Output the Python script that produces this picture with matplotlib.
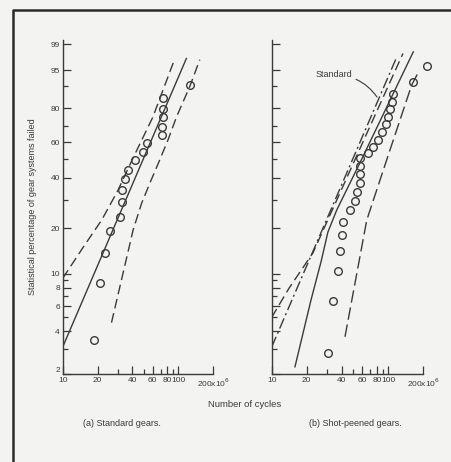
import numpy as np
import matplotlib
matplotlib.use('Agg')
import matplotlib.pyplot as plt
from matplotlib.lines import Line2D
from matplotlib.ticker import FixedLocator, FixedFormatter, NullFormatter

# ---------------- data ----------------
# (a) standard gears: failures (millions of cycles) and percent failed
std_cycles = [18.6, 21.0, 23.3, 25.6, 31.2, 32.3, 32.6, 34.4, 36.3, 42.0,
              49.0, 53.0, 71.8, 72.6, 73.0, 73.0, 73.0, 126.9]
std_pct = [3.5, 8.6, 13.7, 19.2, 23.6, 28.9, 34.2, 39.4, 44.1, 49.6,
           54.4, 59.5, 64.5, 69.5, 75.0, 79.6, 85.0, 90.5]
# fitted Weibull line and 90% confidence band, standard gears
std_fit_cycles = [10, 117]
std_fit_pct = [3.1, 97.4]
std_upper_cycles = [10, 15, 21.7, 30, 40, 60, 91]
std_upper_pct = [9.3, 15.0, 22.5, 34.0, 50.0, 75.0, 96.9]
std_lower_cycles = [26.4, 40.6, 48.0, 56.5, 66.9, 81.2, 96.3, 125, 152.7]
std_lower_pct = [4.6, 19.5, 28.5, 37.3, 47.7, 61.5, 75.3, 89.9, 97.2]

# (b) shot-peened gears
sp_cycles = [30.6, 33.8, 37.3, 38.6, 39.9, 41.2, 47.0, 51.9, 54.3, 57.4,
             57.4, 57.4, 57.4, 67.4, 74.5, 82.3, 89.0, 95.2, 100.2, 103.5,
             107.2, 110.6, 164.4, 213.6]
sp_pct = [2.8, 6.5, 10.5, 14.3, 18.0, 22.0, 26.0, 29.6, 33.4, 37.6,
          42.0, 46.4, 50.6, 53.9, 57.4, 61.5, 66.5, 71.0, 75.3, 79.4,
          83.3, 86.9, 91.7, 96.1]
sp_fit_cycles = [15.85, 21.75, 26.5, 30.4, 36.2, 57.1, 164.4]
sp_fit_pct = [2.25, 6.6, 12.0, 18.9, 26.0, 47.9, 98.3]
sp_upper_cycles = [10, 14, 22.6, 40, 75, 134]
sp_upper_pct = [5.0, 7.9, 13.8, 34.7, 74.4, 98.1]
sp_lower_cycles = [42.6, 65.5, 103.6, 159.1, 185]
sp_lower_pct = [3.66, 22.5, 55.4, 90.5, 95.0]

y_major = [2, 4, 6, 8, 10, 20, 40, 60, 80, 95, 99]
y_minor = [3, 5, 7, 9, 30, 50, 70, 90]
x_major = [10, 20, 40, 60, 80, 100, 200]
x_labels = ['10', '20', '40', '60', '80', '100', '200x10$^6$']
x_minor = [30, 50, 70, 90]

# ---------------- style ----------------
INK = '#3a3a3a'
plt.rcParams['font.family'] = ['Liberation Sans', 'DejaVu Sans']


def fwd(p):
    p = np.clip(np.asarray(p, dtype=float), 1e-6, 99.99999)
    return np.log(-np.log(1 - p / 100.0))


def inv(w):
    return 100.0 * (1 - np.exp(-np.exp(np.asarray(w, dtype=float))))


fig = plt.figure(figsize=(4.51, 4.62), dpi=100)
fig.patch.set_facecolor('#f3f3f1')

axL = fig.add_axes([0.139, 0.1905, 0.334, 0.724])
axR = fig.add_axes([0.6024, 0.1905, 0.336, 0.724])

for ax, lab in ((axL, True), (axR, False)):
    ax.set_facecolor('none')
    ax.set_xscale('log')
    ax.set_yscale('function', functions=(fwd, inv))
    ax.set_xlim(10, 200)
    ax.set_ylim(2, 99.32)
    for s in ('top', 'right'):
        ax.spines[s].set_visible(False)
    for s in ('left', 'bottom'):
        ax.spines[s].set_color(INK)
        ax.spines[s].set_linewidth(1.0)
    ax.xaxis.set_major_locator(FixedLocator(x_major))
    ax.xaxis.set_major_formatter(FixedFormatter(x_labels))
    ax.xaxis.set_minor_locator(FixedLocator(x_minor))
    ax.xaxis.set_minor_formatter(NullFormatter())
    ax.yaxis.set_major_locator(FixedLocator(y_major))
    ax.yaxis.set_minor_locator(FixedLocator(y_minor))
    ax.yaxis.set_minor_formatter(NullFormatter())
    if lab:
        ax.yaxis.set_major_formatter(FixedFormatter([str(v) for v in y_major]))
    else:
        ax.yaxis.set_major_formatter(NullFormatter())
    ax.tick_params(which='major', direction='in', length=5.5, width=0.9,
                   color=INK, labelsize=6, labelcolor=INK, pad=2)
    ax.tick_params(which='minor', direction='in', length=3.5, width=0.9,
                   color=INK)

# lift the bottom "2" label a little so it clears the "10" below
axL.yaxis.get_major_ticks()[0].label1.set_verticalalignment('bottom')

lw = 1.0
# left panel
axL.plot(std_fit_cycles, std_fit_pct, color=INK, lw=lw)
axL.plot(std_upper_cycles, std_upper_pct, color=INK, lw=lw, dashes=(7, 3.5))
axL.plot(std_lower_cycles, std_lower_pct, color=INK, lw=lw, dashes=(7, 3.5))
axL.plot(std_cycles, std_pct, 'o', ms=5.5, mfc='none', mec=INK, mew=1.0,
         clip_on=False)

# right panel
axR.plot(std_fit_cycles, std_fit_pct, color=INK, lw=lw, dashes=(8, 2.5, 1.5, 2.5))
axR.plot(sp_upper_cycles, sp_upper_pct, color=INK, lw=lw, dashes=(7, 3.5))
axR.plot(sp_fit_cycles, sp_fit_pct, color=INK, lw=lw)
axR.plot(sp_lower_cycles, sp_lower_pct, color=INK, lw=lw, dashes=(9, 3.5))
axR.plot(sp_cycles, sp_pct, 'o', ms=5.5, mfc='none', mec=INK, mew=1.0,
         clip_on=False)

axR.annotate('Standard', xy=(0.695, 0.828), xycoords='axes fraction',
             xytext=(0.53, 0.894), textcoords='axes fraction',
             ha='right', va='center', fontsize=6.5, color=INK,
             arrowprops=dict(arrowstyle='-', color=INK, lw=0.8,
                             connectionstyle='angle3,angleA=0,angleB=-55',
                             shrinkA=1, shrinkB=0))

# texts
fig.text(0.073, 0.552, 'Statistical percentage of gear systems failed',
         rotation=90, ha='center', va='center', fontsize=6.5, color=INK)
fig.text(0.543, 0.1255, 'Number of cycles', ha='center', va='center',
         fontsize=6.8, color=INK)
fig.text(0.2705, 0.0844, '(a) Standard gears.', ha='center', va='center',
         fontsize=6.5, color=INK)
fig.text(0.787, 0.0844, '(b) Shot-peened gears.', ha='center', va='center',
         fontsize=6.5, color=INK)

# outer frame (left and top edges visible)
fig.add_artist(Line2D([0.0288, 0.0288, 1.0], [0.0, 0.978, 0.978],
                      transform=fig.transFigure, color='#2a2a2a', lw=1.8))

fig.savefig('out.png', dpi=100, facecolor=fig.get_facecolor())
